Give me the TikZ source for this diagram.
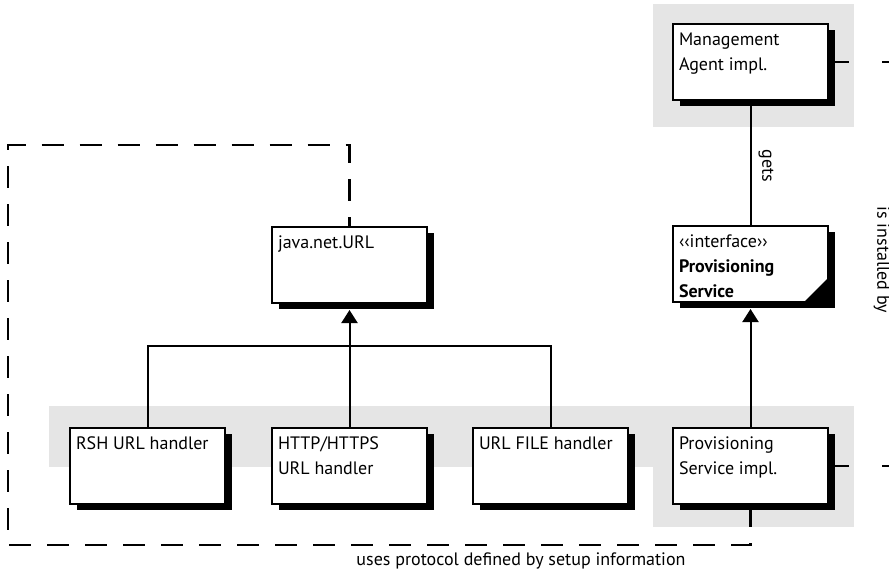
\documentclass[tikz,border=0pt]{standalone}
\usepackage{fontspec}
\setmainfont{PT Sans}
\usetikzlibrary{shadows,arrows.meta}

% class box contents, top aligned
\newcommand{\boxtext}[1]{\parbox[c][69pt][t]{143pt}{\strut #1}}

\begin{document}
\begin{tikzpicture}[x=1pt, y=-1pt, line width=2pt,
		font=\fontsize{18}{25}\selectfont,
		cls/.style={
			draw, fill=white, anchor=north west,
			inner xsep=6pt, inner ysep=3.5pt,
			drop shadow={shadow xshift=7pt, shadow yshift=-6pt, opacity=1, fill=black}
		},
		gen/.style={-{Triangle[width=16pt,length=13pt]}, shorten >=6pt},
		uses/.style={line width=2.5pt, dash pattern=on 22pt off 16pt},
		installs/.style={dash pattern=on 20pt off 33pt}
	]
		\useasboundingbox (0,0) rectangle (889,573);

		% grey packages
		\fill[black!10] (653,4) rectangle (854,127);
		\fill[black!10] (49,406) rectangle (854,467);
		\fill[black!10] (653,406) rectangle (854,527);

		\node[cls] (mgmt) at (672,23) {\boxtext{Management\\Agent impl.}};
		\node[cls] (iface) at (672,225) {\boxtext{‹‹interface››\\\textbf{Provisioning}\\\textbf{Service}}};
		\fill (iface.south east) ++(0,-26) -- (iface.south east) -- ++(-26,0) -- cycle;
		\node[cls] (java) at (271,226) {\boxtext{java.net.URL}};

		\node[cls] (rsh) at (69,427) {\boxtext{RSH URL handler}};
		\node[cls] (http) at (271,427) {\boxtext{HTTP/HTTPS\\URL handler}};
		\node[cls] (urlfile) at (472,427) {\boxtext{URL FILE handler}};
		\node[cls] (impl) at (672,427) {\boxtext{Provisioning\\Service impl.}};

		\draw (mgmt) -- (iface);
		\node[rotate=-90] (gets) at (766,166) {gets};
		\draw[gen] (impl) -- (iface);

		\coordinate (bus) at (351,346);
		\draw (rsh.north) |- (bus) -| (urlfile.north);
		\draw[gen] (http) -- (java);

		\coordinate (c1) at (8,545);
		\coordinate (c2) at (8,145);
		\draw[uses] (impl.south) |- (c1) -- (c2) -| (java.north);
		\node (usesl) at (521,561) {uses protocol defined by setup information};

		\coordinate (inst) at (905,260);
		\draw[installs] (mgmt.east) -| (inst);
		\draw[installs] (impl.east) -| (inst);
		\node[rotate=-90] (instl) at (882,260) {is installed by};
	\end{tikzpicture}
\end{document}
